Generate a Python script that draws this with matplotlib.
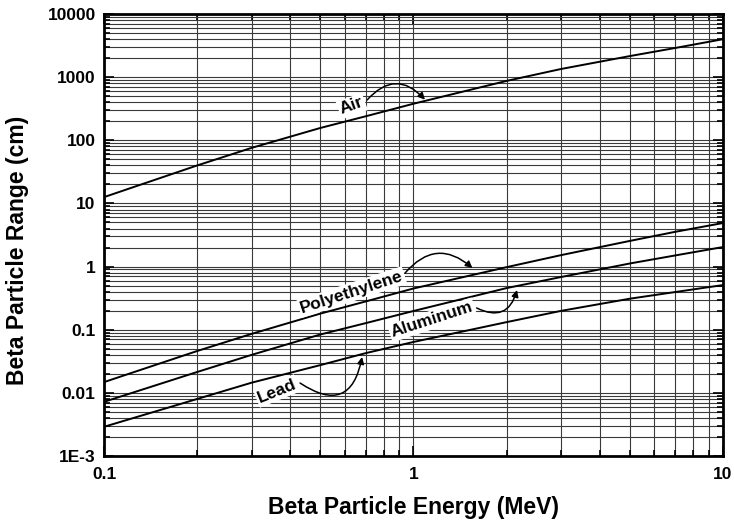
import numpy as np
import matplotlib
matplotlib.use("Agg")
import matplotlib.pyplot as plt
from matplotlib.ticker import LogLocator, NullFormatter

plt.rcParams["font.family"] = ["Liberation Sans", "DejaVu Sans"]
plt.rcParams["font.weight"] = "bold"

# energies (MeV) and ranges (cm)
energy = [0.1, 0.2, 0.3, 0.5, 0.7, 1, 2, 3, 5, 7, 10]
air = [12.6, 40, 76, 157, 240, 380, 874, 1350, 2160, 2900, 4000]
polyethylene = [0.0148, 0.046, 0.086, 0.18, 0.28, 0.45, 0.98, 1.52, 2.55, 3.55, 4.9]
aluminum = [0.0072, 0.0214, 0.040, 0.084, 0.127, 0.198, 0.457, 0.684, 1.12, 1.50, 2.04]
lead = [0.0029, 0.0080, 0.0145, 0.0275, 0.0425, 0.064, 0.132, 0.199, 0.31, 0.395, 0.51]

yticks = [1e-3, 1e-2, 1e-1, 1, 10, 100, 1000, 10000]
ytick_labels = ["1E-3", "0.01", "0.1", "1", "10", "100", "1000", "10000"]
xticks = [0.1, 1, 10]
xtick_labels = ["0.1", "1", "10"]

# label text, centre, rotation; arrow start, arrow tip, bend
labels = ["Air", "Polyethylene", "Aluminum", "Lead"]
label_xy = [(0.632, 349), (0.632, 0.395), (1.148, 0.143), (0.362, 0.0107)]
label_rot = [20, 18, 18, 22]
arrow_from = [(0.708, 435), (0.939, 0.79), (1.60, 0.221), (0.43, 0.0143)]
arrow_to = [(1.089, 440), (1.55, 0.95), (2.16, 0.426), (0.682, 0.037)]
arrow_rad = [-0.55, -0.5, 0.6, 0.75]

fig = plt.figure(figsize=(7.34, 5.21), dpi=100)
ax = fig.add_axes([0.1417, 0.1248, 0.8433, 0.8482])

for ys in (air, polyethylene, aluminum, lead):
    ax.plot(energy, ys, color="black", linewidth=1.4, zorder=3)

ax.set_xscale("log")
ax.set_yscale("log")
ax.set_xlim(0.1, 10)
ax.set_ylim(1e-3, 1e4)

ax.set_yticks(yticks)
ax.set_yticklabels(ytick_labels)
ax.set_xticks(xticks)
ax.set_xticklabels(xtick_labels)
ax.xaxis.set_minor_locator(LogLocator(base=10, subs=np.arange(2, 10)))
ax.yaxis.set_minor_locator(LogLocator(base=10, subs=np.arange(2, 10), numticks=20))
ax.xaxis.set_minor_formatter(NullFormatter())
ax.yaxis.set_minor_formatter(NullFormatter())

ax.grid(which="both", color="#3a3a3a", linewidth=0.8)
ax.tick_params(which="both", direction="in", top=True, right=True, labelsize=12.5, width=1.2)
ax.tick_params(which="major", length=7)
ax.tick_params(which="minor", length=4)
ax.tick_params(axis="x", pad=8)
ax.tick_params(axis="y", pad=6)
for s in ax.spines.values():
    s.set_linewidth(2)

ax.set_xlabel("Beta Particle Energy (MeV)", fontsize=16.5, fontweight="bold", labelpad=10)
fig.text(0.024, 0.52, "Beta Particle Range (cm)", fontsize=16.5, fontweight="bold",
         rotation=90, ha="center", va="center")

box = dict(boxstyle="square,pad=0.1", facecolor="white", edgecolor="none")
for txt, xy, rot in zip(labels, label_xy, label_rot):
    ax.text(xy[0], xy[1], txt, fontsize=12.5, rotation=rot, ha="center", va="center",
            rotation_mode="anchor", bbox=box, zorder=4)
for a, b, r in zip(arrow_from, arrow_to, arrow_rad):
    ax.annotate("", xy=b, xytext=a, zorder=5,
                arrowprops=dict(arrowstyle="-|>", color="black", linewidth=1.1,
                                mutation_scale=10, shrinkA=0, shrinkB=0,
                                connectionstyle=f"arc3,rad={r}"))

fig.savefig("out.png", dpi=100)
